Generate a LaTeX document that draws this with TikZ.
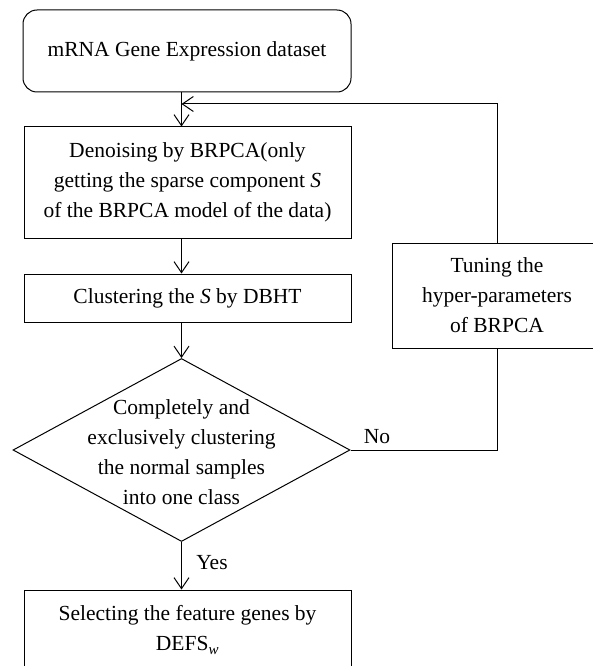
\documentclass[tikz,border=0pt]{standalone}
\usepackage{fontspec}
\setmainfont{Liberation Serif}
\usetikzlibrary{arrows.meta,shapes.geometric}
\begin{document}
\begin{tikzpicture}[x=1pt,y=-1pt,
  txt/.style={align=center, inner sep=0pt, font=\fontsize{21.5}{30}\selectfont},
  box/.style={txt, draw, line width=1pt},
  arr/.style={-{Straight Barb[length=11pt,width=15pt]}, line width=1pt},
  ln/.style={line width=1pt}]
\useasboundingbox (0,0) rectangle (592,666);
\coordinate (spine) at (181.5,0);
\node[box, rounded corners=14pt, minimum width=328pt, minimum height=82pt] (data) at (187,51) {mRNA Gene Expression dataset};
\node[box, minimum width=327pt, minimum height=111pt] (denoise) at (187.5,182.5) {Denoising by BRPCA(only\\getting the sparse component \textit{S}\\of the BRPCA model of the data)};
\node[box, minimum width=327pt, minimum height=48pt] (clust) at (187.5,298) {Clustering the \textit{S} by DBHT};
\node[draw, line width=1pt, shape=diamond, minimum width=337pt, minimum height=183pt, inner sep=0pt] (dec) at (181.5,450) {};
\node[txt] (dectext) at (181.5,452) {Completely and\\exclusively clustering\\the normal samples\\into one class};
\node[box, minimum width=210pt, minimum height=105pt] (tune) at (497,295.5) {Tuning the\\hyper-parameters\\of BRPCA};
\node[box, minimum width=327pt, minimum height=80pt] (sel) at (187.5,630) {Selecting the feature genes by\\DEFS\textsubscript{\textit{w}}};
\coordinate (fb) at (181.5,104);
\node[txt] (no) at (377,437) {No};
\node[txt] (yes) at (212,563) {Yes};
\draw[arr] (data.south -| spine) -- (denoise.north -| spine);
\draw[arr] (denoise.south -| spine) -- (clust.north -| spine);
\draw[arr] (clust.south -| spine) -- (dec.north);
\draw[arr] (dec.south) -- (sel.north -| spine);
\draw[ln] (dec.east) -| (tune.south);
\draw[arr] (tune.north) |- (fb);
\end{tikzpicture}
\end{document}
